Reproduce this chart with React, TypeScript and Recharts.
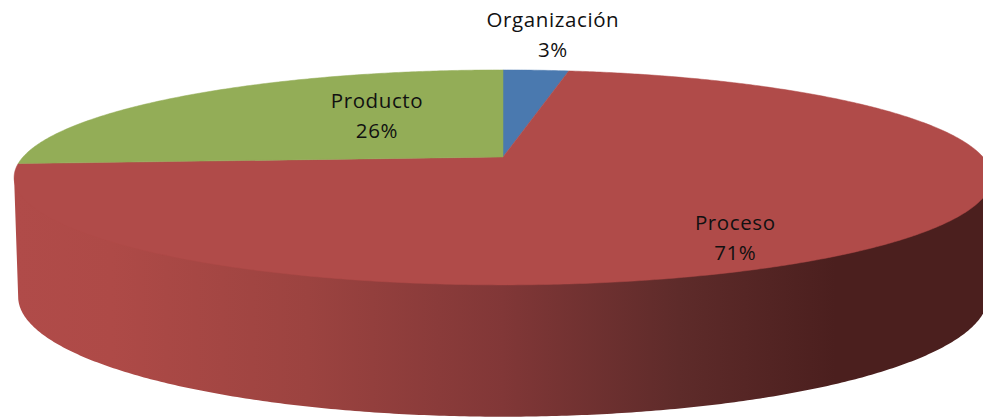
import React from "react";
import { PieChart, Pie } from "recharts";

const categories = ["Organización", "Proceso", "Producto"];
const shares = [2.6, 71.4, 26];
const colors = ["#4A79AF", "#B04B49", "#93AD57"];
const tableData = categories.map((name, i) => ({ name, value: shares[i], fill: colors[i] }));

const FONT = "'Open Sans', sans-serif";
const TILT = 0.19; // perspective strength
const TOP = { bRatio: 103.6 / 480, dy: 0, aRatio: 1 };
const BOTTOM = { bRatio: 115.6 / 480, dy: 117, aRatio: 476 / 480 };
const LABEL_PLACE: Record<string, { f: number; dx: number; dy: number }> = {
  "Organización": { f: 1, dx: 17, dy: -28.5 },
  "Proceso": { f: 0.66, dx: -2, dy: 32 },
  "Producto": { f: 0.4, dx: 7, dy: -7 },
};

function project(angle: number, cx: number, cy: number, r: number, level = TOP, f = 1) {
  const rad = ((90 - angle) * Math.PI) / 180; // clockwise from the top
  const X = Math.sin(rad) * f;
  const Z = Math.cos(rad) * f;
  const w = 1 + TILT * Z;
  return {
    x: cx + (r * level.aRatio * X) / w,
    y: cy + level.dy - (r * level.bRatio * Z) / w,
  };
}

function arcPoints(from: number, to: number, cx: number, cy: number, r: number, level = TOP) {
  const pts: string[] = [];
  const n = Math.max(2, Math.ceil(Math.abs(to - from) * 2));
  for (let i = 0; i <= n; i++) {
    const p = project(from + ((to - from) * i) / n, cx, cy, r, level);
    pts.push(`${p.x.toFixed(2)} ${p.y.toFixed(2)}`);
  }
  return pts;
}

function TopFace(props: any) {
  const { cx, cy, outerRadius, startAngle, endAngle, fill } = props;
  const pts = arcPoints(startAngle, endAngle, cx, cy, outerRadius);
  return <path d={`M${cx} ${cy}L${pts.join("L")}Z`} fill={fill} stroke={fill} strokeWidth={0.5} />;
}

function WallFace(props: any) {
  const { cx, cy, outerRadius, startAngle, endAngle } = props;
  // the visible front of the wall: between the two silhouette points
  const limit = (Math.acos(-TILT) * 180) / Math.PI;
  const frontStart = 90 - limit; // right silhouette (degrees, counter-clockwise from +x)
  const frontEnd = 90 - (360 - limit);
  const from = Math.min(startAngle, frontStart);
  const to = Math.max(endAngle, frontEnd);
  if (from <= to) return <g />;
  const upper = arcPoints(from, to, cx, cy, outerRadius, TOP);
  const lower = arcPoints(to, from, cx, cy, outerRadius, BOTTOM);
  // the wall runs on under the top face, so no seam shows along the rim
  return (
    <g>
      <defs>
        <linearGradient id="wallShade" gradientUnits="userSpaceOnUse" x1="14" y1="0" x2="992" y2="0">
          <stop offset="0" stopColor="#B04B49" />
          <stop offset="0.1" stopColor="#AE4A47" />
          <stop offset="0.3" stopColor="#9C4340" />
          <stop offset="0.5" stopColor="#813737" />
          <stop offset="0.68" stopColor="#5E2B2A" />
          <stop offset="0.84" stopColor="#4B1F1E" />
          <stop offset="1" stopColor="#4B1F1E" />
        </linearGradient>
      </defs>
      <path d={`M${upper[0]}L${cx} ${cy}L${upper[upper.length - 1]}L${lower.join("L")}Z`} fill="url(#wallShade)" />
    </g>
  );
}

function renderLabel(props: any) {
  const { cx, cy, outerRadius, midAngle, name, value } = props;
  const place = LABEL_PLACE[name];
  const p = project(midAngle, cx, cy, outerRadius, TOP, place.f);
  const x = p.x + place.dx;
  const y = p.y + place.dy;
  return (
    <text x={x} y={y} textAnchor="middle" fontFamily={FONT} fontSize={20.5} letterSpacing={0.6} fill="#111" stroke="none">
      <tspan x={x} y={y - 15}>{name}</tspan>
      <tspan x={x} y={y + 15}>{`${Math.round(value)}%`}</tspan>
    </text>
  );
}

export default function App() {
  return (
    <div style={{ position: "absolute", left: 0, top: 0, width: 983, height: 418, background: "#fff", overflow: "hidden" }}>
      <PieChart width={983} height={418} margin={{ top: 0, right: 0, bottom: 0, left: 0 }}>
        <Pie
          data={tableData}
          dataKey="value"
          nameKey="name"
          cx={503}
          cy={157}
          outerRadius={480}
          startAngle={90}
          endAngle={-270}
          stroke="none"
          shape={WallFace}
          isAnimationActive={false}
        />
        <Pie
          data={tableData}
          dataKey="value"
          nameKey="name"
          cx={503}
          cy={157}
          outerRadius={480}
          startAngle={90}
          endAngle={-270}
          stroke="none"
          shape={TopFace}
          label={renderLabel}
          labelLine={false}
          isAnimationActive={false}
        />
      </PieChart>
    </div>
  );
}
